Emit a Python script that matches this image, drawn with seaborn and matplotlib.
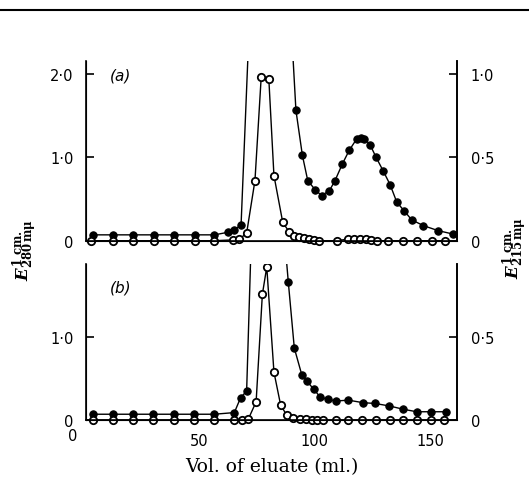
import pandas as pd
import matplotlib.pyplot as plt
import seaborn as sns
from matplotlib.patches import Rectangle
from matplotlib.lines import Line2D

sns.set_style('ticks')
plt.rcParams['font.family'] = ['DejaVu Sans']
plt.rcParams['mathtext.fontset'] = 'custom'
plt.rcParams['mathtext.it'] = 'DejaVu Serif:italic:bold'
plt.rcParams['mathtext.rm'] = 'DejaVu Serif:bold'
plt.rcParams['text.color'] = 'black'
plt.rcParams['axes.labelcolor'] = 'black'
plt.rcParams['xtick.color'] = 'black'
plt.rcParams['ytick.color'] = 'black'
plt.rcParams['axes.edgecolor'] = 'black'

# (a) filled circles (280 mu), one peak point above the axis
a_fill_x = [4.2, 13, 21.8, 30.5, 39.2, 48.2, 56.8, 62.5, 65.4, 68.3, 79.5,
            92.0, 94.8, 97.1, 100.3, 103.1, 106.5, 108.9, 112.1, 115.0, 118.3,
            120.1, 121.6, 124.0, 126.6, 129.8, 132.7, 135.6, 138.7, 142.0,
            147.1, 153.5, 159.8]
a_fill_y = [0.07, 0.07, 0.07, 0.07, 0.07, 0.07, 0.07, 0.10, 0.13, 0.19, 7.8,
            1.56, 1.02, 0.72, 0.61, 0.54, 0.60, 0.72, 0.92, 1.08, 1.22,
            1.23, 1.22, 1.15, 1.00, 0.83, 0.67, 0.46, 0.36, 0.25,
            0.18, 0.12, 0.08]
# (a) open circles
a_open_x = [3.5, 12.8, 21.8, 30.5, 39.2, 48.2, 56.8, 65.0, 67.6, 70.7, 74.3,
            77.0, 80.3, 82.5, 86.3, 89.2, 91.3, 93.5, 95.6, 97.8, 100.0, 102.1,
            109.6, 114.7, 117.3, 119.7, 122.3, 124.5, 126.9, 132.0, 138.4,
            144.2, 150.7, 156.4]
a_open_y = [0, 0, 0, 0, 0, 0, 0, 0.01, 0.02, 0.09, 0.72,
            1.96, 1.93, 0.78, 0.22, 0.10, 0.06, 0.04, 0.03, 0.02, 0.01, 0,
            0, 0.02, 0.02, 0.02, 0.02, 0.01, 0, 0, 0,
            0, 0, 0]

# (b) filled circles
b_fill_x = [4.5, 13.1, 21.7, 30.4, 39.3, 48.1, 56.8, 65.4, 68.1, 70.7, 76.5,
            88.7, 91.3, 94.5, 96.7, 99.8, 102.4, 105.7, 109.3, 114.7, 120.9,
            126.2, 132.4, 138.4, 144.2, 150.4, 156.7]
b_fill_y = [0.07, 0.07, 0.07, 0.07, 0.07, 0.07, 0.07, 0.09, 0.27, 0.35, 5.7,
            1.67, 0.87, 0.55, 0.47, 0.37, 0.28, 0.25, 0.23, 0.24, 0.21,
            0.20, 0.17, 0.13, 0.10, 0.10, 0.10]
# (b) open circles
b_open_x = [4.5, 13.1, 21.7, 30.4, 39.3, 48.1, 56.8, 65.4, 68.6, 71.4, 74.8,
            77.5, 79.4, 82.5, 85.4, 88.0, 90.9, 93.8, 96.4, 98.8, 101.3, 103.6,
            109.3, 114.7, 120.4, 126.6, 132.7, 138.4, 144.2, 150.4, 156.1]
b_open_y = [0, 0, 0, 0, 0, 0, 0, 0, 0, 0.01, 0.22,
            1.52, 1.85, 0.58, 0.18, 0.06, 0.03, 0.01, 0.01, 0.005, 0, 0,
            0, 0, 0, 0, 0, 0, 0, 0, 0]

left_ticks = {'a': [0, 1.0, 2.0], 'b': [0, 1.0]}
right_ticks = {'a': [0, 0.5, 1.0], 'b': [0, 0.5]}
x_ticks = [50, 100, 150]


def fmt(v):
    return '0' if v == 0 else f'{v:.1f}'.replace('.', '\u00b7')


fig = plt.figure(figsize=(5.29, 4.81), dpi=100)
ax_a = fig.add_axes([0.1626, 0.4975, 0.7013, 0.3736])
ax_b = fig.add_axes([0.1626, 0.1247, 0.7013, 0.3243])

panels = [
    (ax_a, 'a', a_fill_x, a_fill_y, a_open_x, a_open_y, 2.15),
    (ax_b, 'b', b_fill_x, b_fill_y, b_open_x, b_open_y, 1.886),
]

for ax, key, fx, fy, ox, oy, ytop in panels:
    filled = pd.DataFrame({'vol': fx, 'E': fy})
    opened = pd.DataFrame({'vol': ox, 'E': oy})
    sns.lineplot(data=filled, x='vol', y='E', ax=ax, sort=False, estimator=None,
                 color='black', lw=1.0, marker='o', ms=5.3, mfc='black', mec='black')
    sns.lineplot(data=opened, x='vol', y='E', ax=ax, sort=False, estimator=None,
                 color='black', lw=1.0, marker='o', ms=5.3, mfc='white', mec='black',
                 mew=1.3)
    # clip just below the baseline so the zero-level circles stay whole
    clip = Rectangle((0, -0.06), 1, 1.06, transform=ax.transAxes)
    for ln in ax.lines:
        ln.set_clip_path(clip)
    ax.set_xlim(1.3, 161.6)
    ax.set_ylim(0, ytop)
    ax.set_yticks(left_ticks[key])
    ax.set_yticklabels([fmt(v) for v in left_ticks[key]], fontsize=10.5)
    ax.tick_params(axis='y', direction='in', length=6, width=1.2, pad=9)
    ax.set_xlabel('')
    ax.set_ylabel('')
    for s in ['left', 'right', 'bottom']:
        ax.spines[s].set_linewidth(1.2)
    ax.spines['top'].set_visible(False)

    tw = ax.twinx()
    tw.set_ylim(0, ytop / 2)
    tw.set_yticks(right_ticks[key])
    tw.set_yticklabels([fmt(v) for v in right_ticks[key]], fontsize=10.5)
    tw.tick_params(axis='y', direction='in', length=6, width=1.2, pad=10)
    tw.spines['top'].set_visible(False)
    tw.spines['right'].set_linewidth(1.2)

    ax.text(0.065, 0.92 if key == 'a' else 0.85, f'({key})', transform=ax.transAxes,
            fontsize=11, style='italic', ha='left', va='center')

ax_a.set_xticks([])
ax_b.set_xticks(x_ticks)
ax_b.set_xticklabels([str(v) for v in x_ticks], fontsize=10.5)
ax_b.tick_params(axis='x', length=0, pad=9)
ax_b.text(-4.3, -0.19, '0', fontsize=10.5, ha='center', va='center')
ax_b.set_xlabel('Vol. of eluate (ml.)', family='DejaVu Serif', fontsize=13.5,
                labelpad=7)

fig.text(25 / 529, 1 - 250 / 481, r'$E^{\mathrm{1\ cm.}}_{\mathrm{280\,m\mu}}$',
         rotation=90, ha='center', va='center', fontsize=12)
fig.text(515 / 529, 1 - 248 / 481, r'$E^{\mathrm{1\ cm.}}_{\mathrm{215\,m\mu}}$',
         rotation=90, ha='center', va='center', fontsize=12)
fig.add_artist(Line2D([0, 1], [1 - 11 / 481] * 2, transform=fig.transFigure,
                      color='black', lw=1.5))

fig.savefig('out.png', dpi=100, facecolor='white')
